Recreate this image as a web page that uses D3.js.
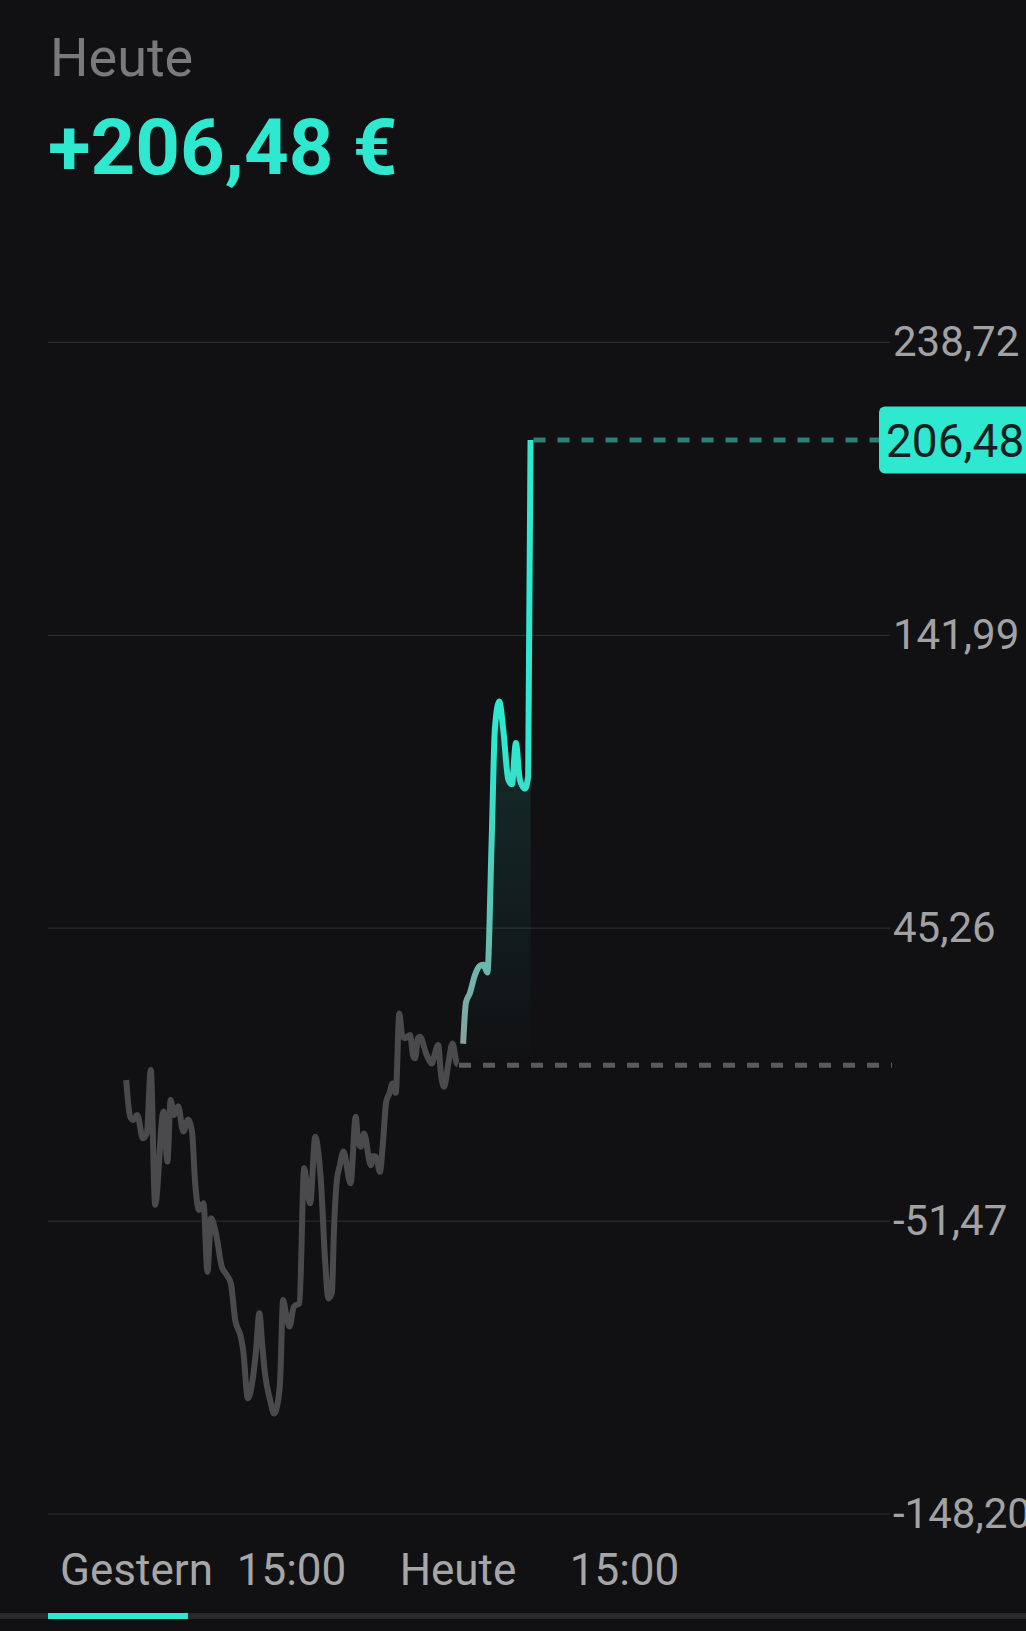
<!DOCTYPE html>
<html><head><meta charset="utf-8">
<script src="https://cdn.jsdelivr.net/npm/d3@7"></script>
<style>
html,body{margin:0;padding:0;background:#111113;}
svg{display:block;font-family:Roboto,"Noto Sans",sans-serif;}
</style></head><body>
<svg id="chart" width="1026" height="1631"></svg>
<script>
// ---------- data ----------
const title = "Heute";
const headline = "+206,48 €";
const yTicks = [238.72, 141.99, 45.26, -51.47, -148.20];
const currentValue = 206.48;
const baselineValue = 0;
const xTickLabels = ["Gestern", "15:00", "Heute", "15:00"];
const xTickDays = [0, 0, 1, 1];
const xTickTimes = ["08:00", "15:00", "08:00", "15:00"];

const yesterdayTimes = ["08:03","08:13","08:21","08:31","08:45","08:55","09:05","09:16","09:37","09:47","09:55","10:04","10:14","10:27","10:39","10:49","10:57","11:07","11:18","11:28","11:37","11:51","12:04","12:17","12:27","12:38","12:52","12:58","13:10","13:22","13:30","13:39","13:46","13:53","14:06","14:16","14:26","14:31","14:39","14:46","14:55","15:06","15:20","15:32","15:39","15:47","16:00","16:07","16:14","16:25","16:33","16:42","16:47","16:54","17:02","17:11","17:29","17:42","17:48","17:55","18:03","18:20","18:26","18:33","18:43","18:51","18:59","19:07","19:15","19:23","19:32","19:39","19:46","19:59","20:07","20:12","20:19","20:24","20:41","20:54","21:02","21:10","21:17","21:25","21:35","21:46","21:57","22:00"];
const yesterdayValues = [-4.9,-17.0,-18.1,-16.4,-24.1,-22.5,-1.6,-46.1,-15.3,-31.8,-11.5,-16.4,-13.5,-21.9,-18.0,-22.0,-39.0,-47.8,-45.6,-68.2,-50.5,-56.6,-66.5,-69.3,-72.0,-84.1,-89.6,-94.0,-110.0,-103.9,-95.0,-81.9,-92.0,-101.7,-110.6,-115.0,-111.0,-105.0,-77.5,-82.0,-86.3,-79.7,-78.6,-34.0,-40.0,-45.6,-23.6,-28.0,-37.9,-65.0,-77.0,-75.0,-55.0,-38.5,-33.0,-28.5,-39.0,-17.0,-25.0,-26.9,-22.5,-33.0,-30.0,-30.2,-35.2,-25.0,-12.0,-9.3,-6.0,-9.1,17.1,10.0,8.9,10.0,3.0,2.3,9.0,9.4,3.4,0.6,4.0,6.7,-3.0,-7.1,0.0,7.2,0.6,0.3];

const todayTimes = ["08:13","08:20","08:30","08:43","08:56","09:04","09:14","09:25","09:33","09:44","09:54","10:07","10:16","10:26","10:36","10:49","10:57","11:03"];
const todayValues = [7.1,20.7,23.8,29.9,32.9,33.2,30.6,74.6,111.0,120.1,111.0,94.3,92.8,106.4,94.3,91.3,95.5,206.48];

// ---------- helpers ----------
const locale = d3.formatLocale({decimal: ",", thousands: ".", grouping: [3], currency: ["", " €"], minus: "-"});
const fmt = locale.format(".2f");
function sessionPos(day, t) {
  const [hh, mm] = t.split(":").map(Number);
  return day * 14 + (hh + mm / 60 - 8);
}
const yesterday = yesterdayTimes.map((t, i) => ({p: sessionPos(0, t), v: yesterdayValues[i]}));
const today = todayTimes.map((t, i) => ({p: sessionPos(1, t), v: todayValues[i]}));

// ---------- scales ----------
const x = d3.scaleLinear().domain([0, 14]).range([125, 458]);
const y = d3.scaleLinear().domain([yTicks[4], yTicks[0]]).range([1514, 342.4]);

const svg = d3.select("#chart");
svg.append("rect").attr("width", 1026).attr("height", 1631).attr("fill", "#111113");

// header
svg.append("text").attr("x", 50).attr("y", 76).attr("font-size", 54).attr("fill", "#7a7a7c").text(title);
svg.append("text").attr("x", 48).attr("y", 174).attr("font-size", 78).attr("font-weight", 700).attr("fill", "#2ee8d0").text(headline);

const defs = svg.append("defs");
const lg = defs.append("linearGradient").attr("id", "lineGrad").attr("gradientUnits", "userSpaceOnUse")
  .attr("x1", 0).attr("x2", 0).attr("y1", y(0)).attr("y2", y(105));
lg.append("stop").attr("offset", 0).attr("stop-color", "#8e9c9a");
lg.append("stop").attr("offset", 0.45).attr("stop-color", "#5cc4b4");
lg.append("stop").attr("offset", 1).attr("stop-color", "#2ee8d0");
const ag = defs.append("linearGradient").attr("id", "areaGrad").attr("gradientUnits", "userSpaceOnUse")
  .attr("x1", 0).attr("x2", 0).attr("y1", y(0)).attr("y2", y(120));
ag.append("stop").attr("offset", 0).attr("stop-color", "#2ee8d0").attr("stop-opacity", 0.0);
ag.append("stop").attr("offset", 1).attr("stop-color", "#2ee8d0").attr("stop-opacity", 0.13);

// grid + y labels
const gy = svg.append("g");
gy.selectAll("line").data(yTicks).join("line")
  .attr("x1", 48).attr("x2", 890).attr("y1", d => y(d)).attr("y2", d => y(d))
  .attr("stroke", "#2b2b2e").attr("stroke-width", 1.2);
gy.selectAll("text").data(yTicks).join("text")
  .attr("x", 893).attr("y", d => y(d) + 14).attr("font-size", 42).attr("fill", "#a2a2a4")
  .text(d => fmt(d));

// baseline dashed
svg.append("line").attr("x1", x(sessionPos(1, "08:00")) + 1).attr("x2", 892)
  .attr("y1", y(baselineValue)).attr("y2", y(baselineValue))
  .attr("stroke", "#5a5a5c").attr("stroke-width", 5).attr("stroke-dasharray", "12,12");

// area under today's line
const area = d3.area().x(d => x(d.p)).y0(y(baselineValue)).y1(d => y(d.v)).curve(d3.curveMonotoneX);
svg.append("path").datum(today).attr("d", area).attr("fill", "url(#areaGrad)");

const line = d3.line().x(d => x(d.p)).y(d => y(d.v)).curve(d3.curveMonotoneX);
svg.append("path").datum(yesterday).attr("d", line).attr("fill", "none")
  .attr("stroke", "#4a4a4c").attr("stroke-width", 6).attr("stroke-linejoin", "round");
svg.append("path").datum(today).attr("d", line).attr("fill", "none")
  .attr("stroke", "url(#lineGrad)").attr("stroke-width", 6).attr("stroke-linejoin", "round");

// current value dashed + badge
const last = today[today.length - 1];
svg.append("line").attr("x1", x(last.p) + 3).attr("x2", 879)
  .attr("y1", y(currentValue)).attr("y2", y(currentValue))
  .attr("stroke", "#2b7f74").attr("stroke-width", 5).attr("stroke-dasharray", "12,12");
svg.append("rect").attr("x", 879).attr("y", y(currentValue) - 33.5).attr("width", 170).attr("height", 67)
  .attr("rx", 6).attr("fill", "#2ee8d0");
svg.append("text").attr("x", 886).attr("y", y(currentValue) + 17).attr("font-size", 46).attr("fill", "#17201f")
  .text(fmt(currentValue));

// x labels
const xl = svg.append("g").selectAll("text").data(xTickLabels).join("text")
  .attr("y", 1585).attr("font-size", 44).attr("fill", "#a6a6a8").attr("text-anchor", "middle")
  .text(d => d)
  .attr("x", (d, i) => x(sessionPos(xTickDays[i], xTickTimes[i])));
xl.each(function (d, i) {
  const w = this.getComputedTextLength();
  const cx = +this.getAttribute("x");
  if (cx - w / 2 < 60) this.setAttribute("x", 60 + w / 2);
});

// tab bar
svg.append("rect").attr("x", 0).attr("y", 1613).attr("width", 1026).attr("height", 6).attr("fill", "#2a2a2c");
svg.append("rect").attr("x", 48).attr("y", 1613).attr("width", 140).attr("height", 6).attr("fill", "#2ee8d0");
</script>
</body></html>
